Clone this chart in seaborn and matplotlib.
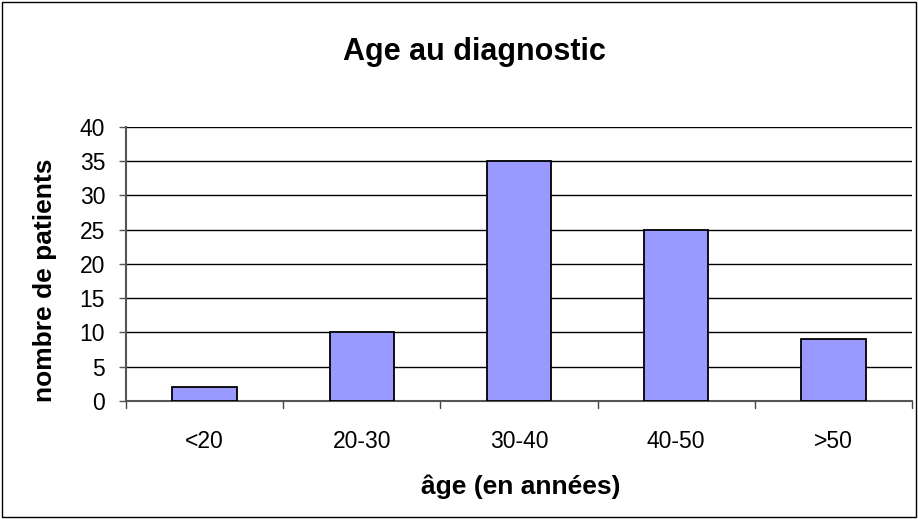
import matplotlib
matplotlib.use("Agg")
import matplotlib.pyplot as plt
import seaborn as sns
from matplotlib.patches import Rectangle

# data
categories = ["<20", "20-30", "30-40", "40-50", ">50"]
patients = [2, 10, 35, 25, 9]
y_ticks = [0, 5, 10, 15, 20, 25, 30, 35, 40]

sns.set_style("white")
plt.rcParams['font.family'] = ['Liberation Sans', 'DejaVu Sans']
plt.rcParams['text.color'] = 'black'
plt.rcParams['xtick.color'] = 'black'
plt.rcParams['ytick.color'] = 'black'

W, H = 918, 519
fig = plt.figure(figsize=(W / 100, H / 100), dpi=100)
ax = fig.add_axes([0.1373, 0.2274, 0.8562, 0.5279])

sns.barplot(x=categories, y=patients, color="#9999FF", saturation=1,
            width=0.41, edgecolor="black", linewidth=1.3, ax=ax, zorder=3)

ax.set_ylim(0, 40)
ax.set_xlim(-0.5, len(categories) - 0.5)
ax.set_yticks(y_ticks)
ax.set_yticklabels([str(v) for v in y_ticks], fontsize=16.5)
ax.tick_params(axis="y", length=5, width=1, color="#555555", pad=10, left=True,
               labelcolor="black")
ax.tick_params(axis="x", length=0, pad=21, labelsize=16.5, labelcolor="black")
ax.grid(axis="y", color="black", linewidth=1, zorder=0)
ax.set_axisbelow(True)

# x ticks between categories, like the original
for b in [i + 0.5 for i in range(-1, len(categories))]:
    ax.plot([b, b], [0, -0.025], transform=ax.get_xaxis_transform(),
            color="#444444", linewidth=1, clip_on=False)

for side in ["top", "right"]:
    ax.spines[side].set_visible(False)
ax.spines["left"].set_color("#555555")
ax.spines["bottom"].set_color("#555555")
ax.spines["left"].set_linewidth(1.5)
ax.spines["bottom"].set_linewidth(1.5)

ax.set_xlabel("")
ax.set_ylabel("")
fig.text(521 / W, 1 - 487 / H, "âge (en années)", ha="center", va="center",
         fontsize=19, fontweight="bold")
fig.text(45 / W, 1 - 280 / H, "nombre de patients", ha="center", va="center",
         fontsize=19, fontweight="bold", rotation=90)
fig.text(474 / W, 1 - 52 / H, "Age au diagnostic", ha="center", va="center",
         fontsize=22, fontweight="bold")

fig.patches.append(Rectangle((0.002, 0.003), 0.996, 0.994, transform=fig.transFigure,
                             fill=False, edgecolor="black", linewidth=1))

fig.savefig("out.png", dpi=100)
